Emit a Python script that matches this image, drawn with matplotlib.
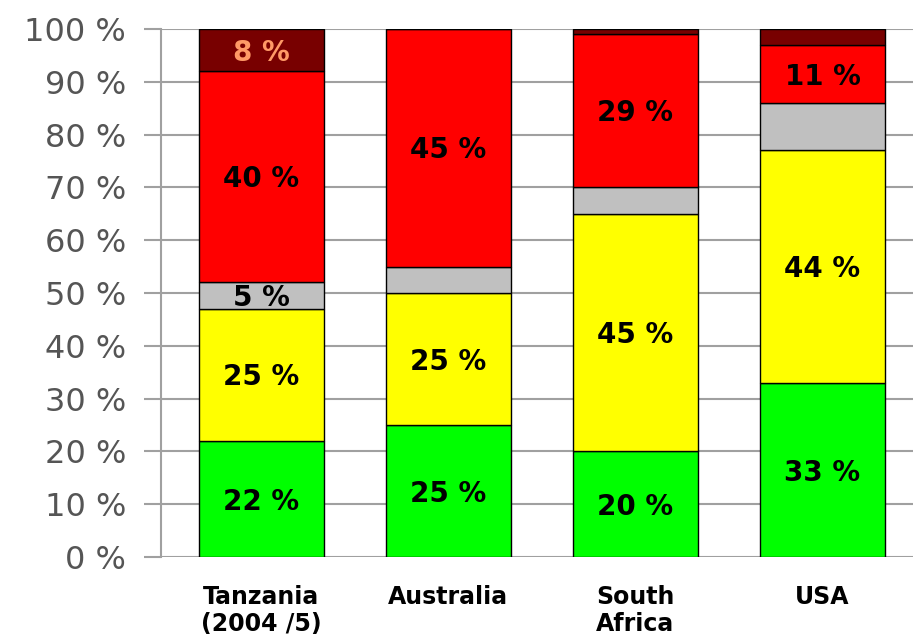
import matplotlib
matplotlib.use("Agg")
import matplotlib.pyplot as plt
import numpy as np

# Data
countries = ["Tanzania\n(2004 /5)", "Australia", "South\nAfrica", "USA"]
green = [22, 25, 20, 33]
yellow = [25, 25, 45, 44]
grey = [5, 5, 5, 9]
red = [40, 45, 29, 11]
darkred = [8, 0, 1, 3]

green_lbl = ["22 %", "25 %", "20 %", "33 %"]
yellow_lbl = ["25 %", "25 %", "45 %", "44 %"]
grey_lbl = ["5 %", "", "", ""]
red_lbl = ["40 %", "45 %", "29 %", "11 %"]
darkred_lbl = ["8 %", "", "", ""]

yticks = list(range(0, 101, 10))
ytick_labels = [f"{v} %" for v in yticks]

series = [
    (green, green_lbl, "#00ff00", "black"),
    (yellow, yellow_lbl, "#ffff00", "black"),
    (grey, grey_lbl, "#c0c0c0", "black"),
    (red, red_lbl, "#ff0000", "black"),
    (darkred, darkred_lbl, "#780000", "#ff9966"),
]

fig = plt.figure(figsize=(9.13, 6.39), dpi=100)
ax = fig.add_axes([0.1763, 0.1283, 0.8237, 0.8263])

x = np.arange(len(countries))
bottom = np.zeros(len(countries))
for vals, lbls, col, tcol in series:
    vals = np.array(vals, dtype=float)
    bars = ax.bar(x, vals, width=0.668, bottom=bottom, color=col,
                  edgecolor="black", linewidth=1.0, zorder=3)
    for b, v, lb, bt in zip(bars, vals, lbls, bottom):
        if lb:
            t = ax.text(b.get_x() + b.get_width() / 2, bt + v / 2 - 0.5, lb,
                        ha="center", va="center", fontsize=20,
                        fontweight="bold", color=tcol, zorder=4)
            t.set_clip_path(b)
    bottom += vals

ax.set_xlim(-0.537, 3.484)
ax.set_ylim(0, 100)
ax.set_yticks(yticks)
ax.set_yticklabels(ytick_labels, fontsize=23, color="#555555")
ax.set_xticks(x)
ax.set_xticklabels(countries, fontsize=17, fontweight="bold", color="black",
                   linespacing=1.15)

ax.yaxis.grid(True, color="#a0a0a0", linewidth=1.5, zorder=0)
ax.set_axisbelow(True)
ax.tick_params(axis="y", length=12, width=1.5, color="#a0a0a0", pad=13)
ax.tick_params(axis="x", length=0, pad=20)
for s in ["top", "right", "bottom"]:
    ax.spines[s].set_visible(False)
ax.spines["left"].set_color("#a0a0a0")
ax.spines["left"].set_linewidth(1.5)

fig.savefig("out.png", dpi=100)
